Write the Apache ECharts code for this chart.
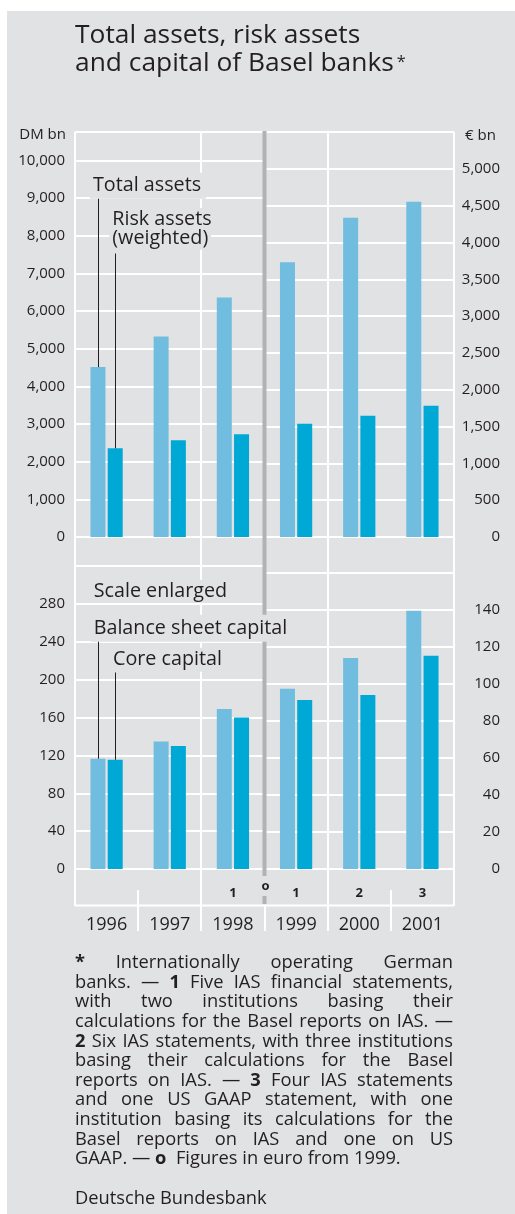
<!DOCTYPE html>
<html><head><meta charset="utf-8">
<script src="https://cdn.jsdelivr.net/npm/echarts@6/dist/echarts.min.js"></script>
<style>html,body{margin:0;padding:0;background:#fff}#c{width:515px;height:1214px}</style>
</head><body><div id="c"></div>
<script>
// ---------------- data ----------------
const yearsDM  = ['1996', '1997', '1998'];
const yearsEUR = ['1999', '2000', '2001'];
const notesDM  = ['', '', '1'];
const notesEUR = ['1', '2', '3'];
// top panel (DM bn until 1998, € bn from 1999)
const totalAssetsDM  = [4513, 5328, 6363];
const riskAssetsDM   = [2355, 2567, 2726];
const totalAssetsEUR = [3732, 4335, 4552];
const riskAssetsEUR  = [1539, 1648, 1783];
// bottom panel (scale enlarged)
const balanceCapitalDM  = [116.4, 134.6, 169.1];
const coreCapitalDM     = [115.3, 129.8, 160.0];
const balanceCapitalEUR = [97.3, 114.0, 139.5];
const coreCapitalEUR    = [91.2, 93.9, 115.1];
// tick labels
const tickTopDM  = {step: 1000, lastShown: 10000};
const tickTopEUR = {step: 500,  lastShown: 5000};
const tickBotDM  = {step: 40,   lastShown: 280};
const tickBotEUR = {step: 20,   lastShown: 140};
const EUR_RATE = 1.95583; // DM per euro

const footnoteLines = [
  '^*^ Internationally operating German',
  'banks. — ^1^ Five IAS financial statements,',
  'with two institutions basing their',
  'calculations for the Basel reports on IAS. —',
  '^2^ Six IAS statements, with three institutions',
  'basing their calculations for the Basel',
  'reports on IAS. — ^3^ Four IAS statements',
  'and one US GAAP statement, with one',
  'institution basing its calculations for the',
  'Basel reports on IAS and one on US',
  'GAAP. — ^o^  Figures in euro from 1999.'
];

// ---------------- layout ----------------
const FONT = '"Open Sans", "Noto Sans", sans-serif';
const INK = '#231f20';
const BG = '#e1e2e3';
const LIGHT = '#70bddf';
const DARK = '#00a8d6';
const DIV = '#b1b2b4';
const X0 = 75, XM = 264.5, X1 = 454;
const CW = (XM - X0) / 3;
const TOP_T = 132, TOP_H = 405;
const TOP_MAX_EUR = 5500, TOP_MAX_DM = TOP_MAX_EUR * EUR_RATE;
const BOT_T = 566, BOT_H = 303;
const BOT_MAX_DM = 320, BOT_MAX_EUR = 160;
const BOT_E_H = BOT_H * BOT_MAX_EUR * EUR_RATE / BOT_MAX_DM;
const TOP_ZERO = TOP_T + TOP_H, BOT_ZERO = BOT_T + BOT_H;
const pxToTopDM = px => (TOP_ZERO - px) * TOP_MAX_DM / TOP_H;
const pxToBotDM = px => (BOT_ZERO - px) * BOT_MAX_DM / BOT_H;

const ctx = document.createElement('canvas').getContext('2d');
function tw(t, size, weight) { ctx.font = (weight || 'normal') + ' ' + size + 'px ' + FONT; return ctx.measureText(t).width; }
function fit(t, w, weight) { return 100 * w / tw(t, 100, weight); }
const MID = 0.388; // em distance baseline -> middle
const avg = a => a.reduce((s, v) => s + v, 0) / a.length;

const titleSize = avg([fit('Total assets, risk assets', 282), fit('and capital of Basel banks', 323)]);
const lblSize = avg([fit('Total assets', 108), fit('Risk assets', 96), fit('(weighted)', 104),
  fit('Scale enlarged', 124), fit('Balance sheet capital', 194), fit('Core capital', 111)]);
const fnSize = avg([fit('GAAP. — o  Figures in euro from 1999.', 332), fit('Deutsche Bundesbank', 188)]);
const AX = 15;

const fmt = v => v.toLocaleString('en-US');
const labelFmt = t => v => (v <= t.lastShown + 1e-9 && Math.abs(v / t.step - Math.round(v / t.step)) < 1e-6) ? fmt(v) : '';

// ---------------- graphic ----------------
const els = [];
els.push({type: 'rect', shape: {x: 0, y: 0, width: 515, height: 11}, style: {fill: '#fff'}, z: 0, silent: true});
els.push({type: 'rect', shape: {x: 0, y: 0, width: 7, height: 1214}, style: {fill: '#fff'}, z: 0, silent: true});
function vline(x, y1, y2) { els.push({type: 'line', shape: {x1: x, y1: y1, x2: x, y2: y2}, style: {stroke: '#fff', lineWidth: 2}, z: 1, silent: true}); }
vline(X0, TOP_T, 906);
vline(Math.round(X0 + 2 * CW), TOP_T, 931);
vline(Math.round(XM + CW), TOP_T, 931);
vline(X1, TOP_T, 906);
vline(Math.round(X0 + CW), 890, 931);
vline(Math.round(XM + 2 * CW), 890, 931);
vline(Math.round(XM), 905, 931);
els.push({type: 'line', shape: {x1: X0, y1: 905.5, x2: X1, y2: 905.5}, style: {stroke: '#fff', lineWidth: 2}, z: 1, silent: true});
els.push({type: 'rect', shape: {x: XM - 2, y: TOP_T - 1, width: 4, height: 905 - TOP_T}, style: {fill: DIV}, z: 2, silent: true});

function txt(t, x, base, size, opt) {
  opt = opt || {};
  els.push({type: 'text', x: x, y: base - MID * size, z: opt.z || 10, silent: true,
    style: {text: t, fill: INK, fontFamily: FONT, fontSize: size, fontWeight: opt.bold ? 'bold' : 'normal',
      align: opt.align || 'left', verticalAlign: 'middle',
      backgroundColor: opt.bg || 'transparent', padding: opt.pad || 0}});
}
// title
txt('Total assets, risk assets', 75, 45.7, titleSize);
txt('and capital of Basel banks', 75, 74, titleSize);
txt('*', 75 + tw('and capital of Basel banks', titleSize) + 3, 69, titleSize * 0.62);
// units
txt('DM bn', 66, 141, AX, {align: 'right'});
txt('€ bn', 465, 142, AX);
// in-chart labels
const lp = [2, 5, 4, 3];
txt('Total assets', 90, 193.3, lblSize, {bg: BG, pad: lp});
txt('Risk assets', 109.3, 226.7, lblSize, {bg: BG, pad: [2, 10, 0, 3]});
txt('(weighted)', 109.3, 246, lblSize, {bg: BG, pad: [0, 3, 3, 3]});
txt('Scale enlarged', 90.7, 599, lblSize, {bg: BG, pad: [2, 3, 1, 3]});
txt('Balance sheet capital', 90.7, 636, lblSize, {bg: BG, pad: [2, 3, 5, 3]});
txt('Core capital', 110, 667.5, lblSize, {bg: BG, pad: [2, 3, 2, 3]});
// euro marker on divider
txt('o', XM + 1, 891, 13, {bold: true, align: 'center', bg: BG, pad: [4, 2, 3, 2]});

// footnotes (justified)
const FN_X0 = 75, FN_X1 = 453, FN_BASE0 = 970, FN_LH = 19.6;
footnoteLines.forEach((line, i) => {
  const toks = line.split(' ').map(t => { const b = /^\^.*\^$/.test(t); return {t: b ? t.slice(1, -1) : t, b: b}; });
  const widths = toks.map(k => k.t ? tw(k.t, fnSize, k.b ? 'bold' : 'normal') : 0);
  const last = i === footnoteLines.length - 1;
  const sum = widths.reduce((a, b) => a + b, 0);
  const gap = last ? tw(' ', fnSize) : (FN_X1 - FN_X0 - sum) / (toks.length - 1);
  let x = FN_X0;
  const base = FN_BASE0 + i * FN_LH;
  toks.forEach((k, j) => {
    if (k.t) txt(k.t, x, base, fnSize, {bold: k.b});
    x += widths[j] + gap;
  });
});
txt('Deutsche Bundesbank', 75, 1206, fnSize);

// ---------------- chart ----------------
const axisCommon = {axisLine: {show: false}, axisTick: {show: false}, splitLine: {show: false}};
function xAx(grid, cats, notes) {
  return Object.assign({type: 'category', gridIndex: grid, data: cats, boundaryGap: true,
    axisLabel: notes ? {
      show: true, interval: 0, margin: 8, color: INK, fontFamily: FONT,
      formatter: (v, i) => '{n|' + (notes[i] || ' ') + '}\n{y|' + v + '}',
      rich: {n: {fontSize: 13, fontWeight: 'bold', lineHeight: 32, color: INK, fontFamily: FONT},
             y: {fontSize: 18, lineHeight: 32, color: INK, fontFamily: FONT}}
    } : {show: false}}, axisCommon);
}
function yAx(grid, pos, max, t) {
  return {type: 'value', gridIndex: grid, position: pos, min: 0, max: max, interval: t.step,
    axisLine: {show: false}, axisTick: {show: false},
    splitLine: {show: true, lineStyle: {color: '#fff', width: 2}},
    axisLabel: {show: true, color: INK, fontFamily: FONT, fontSize: AX,
      margin: pos === 'left' ? 10 : 46, align: 'right', formatter: labelFmt(t)}};
}
function bar(name, xi, data, color, ml) {
  const s = {type: 'bar', name: name, xAxisIndex: xi, yAxisIndex: xi, data: data, barWidth: 15, barGap: '15%',
    itemStyle: {color: color}, silent: true, animation: false};
  if (ml) s.markLine = {silent: true, symbol: 'none', animation: false, label: {show: false},
    lineStyle: {color: INK, width: 1, type: 'solid'}, emphasis: {disabled: true}, data: [ml]};
  return s;
}

const option = {
  animation: false,
  backgroundColor: BG,
  textStyle: {fontFamily: FONT},
  grid: [
    {left: X0, top: TOP_T, width: XM - X0, height: TOP_H},
    {left: XM, top: TOP_T, width: X1 - XM, height: TOP_H},
    {left: X0, top: BOT_T, width: XM - X0, height: BOT_H},
    {left: XM, top: BOT_ZERO - BOT_E_H, width: X1 - XM, height: BOT_E_H}
  ],
  xAxis: [xAx(0, yearsDM), xAx(1, yearsEUR), xAx(2, yearsDM, notesDM), xAx(3, yearsEUR, notesEUR)],
  yAxis: [yAx(0, 'left', TOP_MAX_DM, tickTopDM), yAx(1, 'right', TOP_MAX_EUR, tickTopEUR),
          yAx(2, 'left', BOT_MAX_DM, tickBotDM), yAx(3, 'right', BOT_MAX_EUR, tickBotEUR)],
  series: [
    bar('Total assets', 0, totalAssetsDM, LIGHT, [{coord: [0, totalAssetsDM[0]]}, {coord: [0, pxToTopDM(197.5)]}]),
    bar('Risk assets (weighted)', 0, riskAssetsDM, DARK, [{coord: [0, riskAssetsDM[0]]}, {coord: [0, pxToTopDM(253.5)]}]),
    bar('Total assets', 1, totalAssetsEUR, LIGHT),
    bar('Risk assets (weighted)', 1, riskAssetsEUR, DARK),
    bar('Balance sheet capital', 2, balanceCapitalDM, LIGHT, [{coord: [0, balanceCapitalDM[0]]}, {coord: [0, pxToBotDM(640.5)]}]),
    bar('Core capital', 2, coreCapitalDM, DARK, [{coord: [0, coreCapitalDM[0]]}, {coord: [0, pxToBotDM(672.5)]}]),
    bar('Balance sheet capital', 3, balanceCapitalEUR, LIGHT),
    bar('Core capital', 3, coreCapitalEUR, DARK)
  ],
  graphic: {elements: els}
};
const chart = echarts.init(document.getElementById('c'), null, {renderer: 'canvas', width: 515, height: 1214});
chart.setOption(option);
</script></body></html>
